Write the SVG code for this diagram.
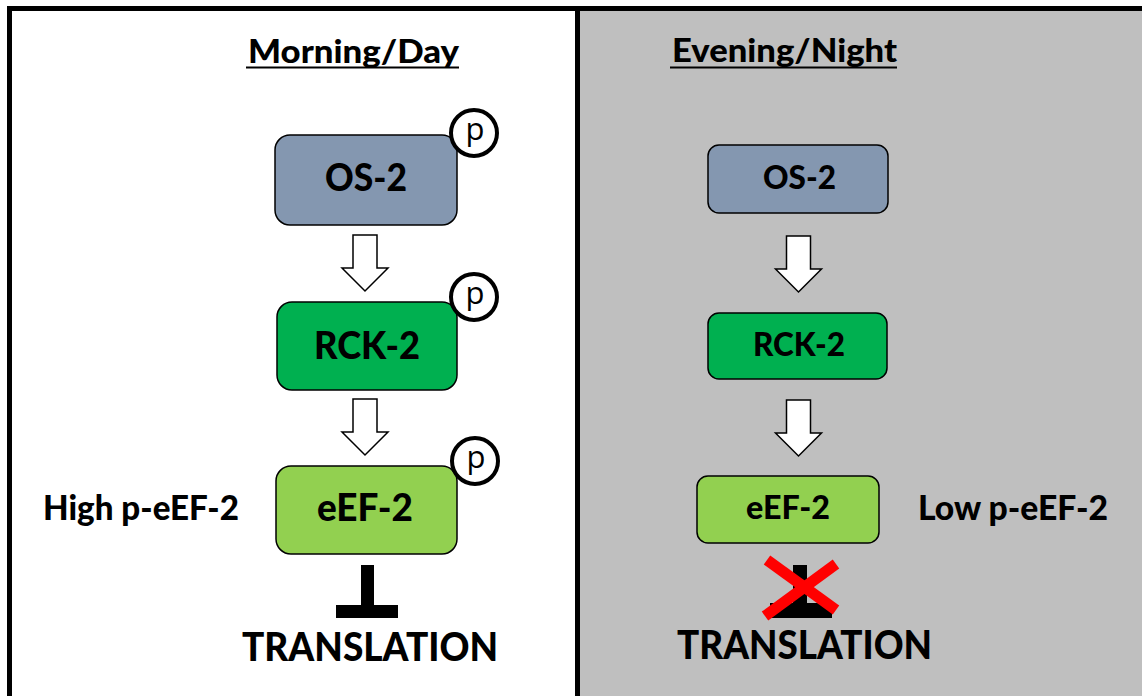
<svg xmlns="http://www.w3.org/2000/svg" width="1142" height="696" viewBox="0 0 1142 696">
<style>
  .t { font-family: Lato, "Liberation Sans", Arial, sans-serif; font-weight: 900; fill: #000; }
  .box { stroke: #000; stroke-width: 1.5; }
  .os { fill: #8497b0; }
  .rck { fill: #00b050; }
  .eef { fill: #92d050; }
  .arr { fill: #fff; stroke: #000; stroke-width: 1.5; stroke-linejoin: miter; }
  .pc { fill: #fff; stroke: #000; stroke-width: 4; }
  .pt { font-family: "Open Sans", "Liberation Sans", Arial, sans-serif; font-size: 31px; fill: #000; text-anchor: middle; }
</style>
<defs>
  <g id="parrow"><path d="M-12,0 H12 V33 H23 L0,56 L-23,33 H-12 Z"/></g>
  <g id="pcircle"><circle r="23" class="pc"/><text class="pt" x="1" y="7">p</text></g>
</defs>
<rect x="0" y="0" width="1142" height="696" fill="#fff"/>
<rect x="578" y="9" width="564" height="687" fill="#bfbfbf"/>
<g id="frame" fill="#000">
  <rect x="7" y="6" width="1135" height="5"/>
  <rect x="7" y="6" width="5" height="690"/>
  <rect x="575" y="6" width="5" height="690"/>
</g>
<g id="headings">
  <text class="t" x="248" y="63" font-size="33" textLength="211" lengthAdjust="spacingAndGlyphs">Morning/Day</text>
  <rect x="246" y="66.5" width="213" height="2"/>
  <text class="t" x="672" y="62" font-size="33" textLength="225" lengthAdjust="spacingAndGlyphs">Evening/Night</text>
  <rect x="670" y="66.5" width="227" height="2"/>
</g>
<g id="connectors">
  <use href="#parrow" class="arr" transform="translate(365,235)"/>
  <use href="#parrow" class="arr" transform="translate(365,399)"/>
  <use href="#parrow" class="arr" transform="translate(798.5,236)"/>
  <use href="#parrow" class="arr" transform="translate(798.5,400)"/>
  <g id="inhib-left" fill="#000">
    <rect x="361" y="565" width="13" height="45"/>
    <rect x="336" y="605" width="62" height="13"/>
  </g>
  <g id="inhib-right" fill="#000">
    <rect x="793" y="565" width="14" height="42"/>
    <rect x="770" y="603" width="62" height="15"/>
  </g>
</g>
<g id="node-os2-day">
  <rect class="box os" x="275" y="135" width="182" height="90" rx="15"/>
  <text class="t" x="325" y="191" font-size="37" textLength="82" lengthAdjust="spacingAndGlyphs">OS-2</text>
  <use href="#pcircle" transform="translate(474,133)"/>
</g>
<g id="node-rck2-day">
  <rect class="box rck" x="277" y="302" width="180" height="88" rx="15"/>
  <text class="t" x="314" y="359" font-size="37" textLength="106" lengthAdjust="spacingAndGlyphs">RCK-2</text>
  <use href="#pcircle" transform="translate(474,297)"/>
</g>
<g id="node-eef2-day">
  <rect class="box eef" x="276" y="466" width="181" height="88" rx="15"/>
  <text class="t" x="317" y="521" font-size="37" textLength="96" lengthAdjust="spacingAndGlyphs">eEF-2</text>
  <use href="#pcircle" transform="translate(475,461)"/>
</g>
<g id="label-high">
  <text class="t" x="43" y="520" font-size="35" textLength="196" lengthAdjust="spacingAndGlyphs">High p-eEF-2</text>
</g>
<g id="translation-day">
  <text class="t" x="242" y="661" font-size="39" textLength="256" lengthAdjust="spacingAndGlyphs">TRANSLATION</text>
</g>
<g id="node-os2-night">
  <rect class="box os" x="708" y="145" width="180" height="68" rx="11"/>
  <text class="t" x="763" y="189" font-size="33" textLength="73" lengthAdjust="spacingAndGlyphs">OS-2</text>
</g>
<g id="node-rck2-night">
  <rect class="box rck" x="708" y="313" width="179" height="66" rx="11"/>
  <text class="t" x="753" y="356" font-size="33" textLength="92" lengthAdjust="spacingAndGlyphs">RCK-2</text>
</g>
<g id="node-eef2-night">
  <rect class="box eef" x="697" y="476" width="182" height="67" rx="11"/>
  <text class="t" x="746" y="519" font-size="33" textLength="84" lengthAdjust="spacingAndGlyphs">eEF-2</text>
</g>
<g id="label-low">
  <text class="t" x="918" y="520" font-size="35" textLength="190" lengthAdjust="spacingAndGlyphs">Low p-eEF-2</text>
</g>
<g id="cross" stroke="#ff0000" stroke-width="11">
  <line x1="767" y1="560" x2="836" y2="610"/>
  <line x1="836" y1="564" x2="765" y2="616"/>
</g>
<g id="translation-night">
  <text class="t" x="677" y="659" font-size="39" textLength="255" lengthAdjust="spacingAndGlyphs">TRANSLATION</text>
</g>
</svg>
